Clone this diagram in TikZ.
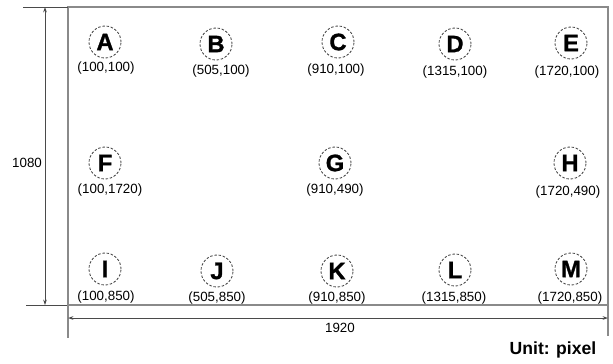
\documentclass[tikz,border=0pt]{standalone}
\usepackage{fontspec}
\setmainfont{Liberation Sans}
\newfontface\heavy{Liberation Sans Bold}[FakeBold=1.2]
\usepackage{tikz}
\usetikzlibrary{arrows.meta}
\usepackage{xcolor}
\definecolor{FrameGray}{HTML}{8A8A8A}
\definecolor{DimGray}{HTML}{4A4A4A}

\tikzset{
  spot/.style={draw=DimGray, circle, dash pattern=on 1.4pt off 1pt, line width=0.5pt,
               minimum size=0.64cm, inner sep=0pt,
               font=\fontsize{13.5}{13.5}\heavy},
  xy/.style={font=\fontsize{7.6}{9}\selectfont},
  dimline/.style={draw=DimGray, line width=0.45pt},
  dimarrow/.style={dimline, {Stealth[length=3pt,width=2pt]}-{Stealth[length=3pt,width=2pt]}}
}

\begin{document}
\begin{tikzpicture}[x=0.02cm, y=-0.02cm]
    \useasboundingbox (0,0) rectangle (613,363);

    % frame and extension lines
    \coordinate (tl) at (68,7);
    \coordinate (tr) at (608,7);
    \coordinate (bl) at (68,305);
    \coordinate (br) at (608,305);
    \draw[FrameGray, line width=0.9pt] (tl) rectangle (br);
    \coordinate (topext) at (23,7);
    \coordinate (botext) at (26,305);
    \coordinate (leftend) at (68,338);
    \coordinate (rightend) at (608,336);
    \draw[dimline] (topext) -- (tl);
    \draw[dimline] (botext) -- (bl);
    \draw[FrameGray, line width=0.9pt] (bl) -- (leftend);
    \draw[FrameGray, line width=0.9pt] (br) -- (rightend);

    % dimensions
    \coordinate (vtop) at (45,7);
    \coordinate (vbot) at (45,305);
    \coordinate (hleft) at (68,318);
    \coordinate (hright) at (608,318);
    \draw[dimarrow] (vtop) -- (vbot);
    \draw[dimarrow] (hleft) -- (hright);
    \node[xy, anchor=east, inner sep=1pt] (height) at (44,163) {1080};
    \node[xy] (width) at (340,328) {1920};
    \node[font=\fontsize{10}{12}\selectfont\bfseries] (unit) at (553,350) {Unit: pixel};

    % top row
    \node[spot] (A) at (105,42) {A};
    \node[xy] (A-xy) at (106,68) {(100,100)};
    \node[spot] (B) at (216,44) {B};
    \node[xy] (B-xy) at (221,71) {(505,100)};
    \node[spot] (C) at (338,42) {C};
    \node[xy] (C-xy) at (336,70) {(910,100)};
    \node[spot] (D) at (455,44) {D};
    \node[xy] (D-xy) at (455,72) {(1315,100)};
    \node[spot] (E) at (571,43) {E};
    \node[xy] (E-xy) at (567,72) {(1720,100)};

    % middle row
    \node[spot] (F) at (105,163) {F};
    \node[xy] (F-xy) at (110,190) {(100,1720)};
    \node[spot] (G) at (335,163) {G};
    \node[xy] (G-xy) at (335,190) {(910,490)};
    \node[spot] (H) at (570,163) {H};
    \node[xy] (H-xy) at (568,192) {(1720,490)};

    % bottom row
    \node[spot] (I) at (105,269) {I};
    \node[xy] (I-xy) at (106,297) {(100,850)};
    \node[spot] (J) at (217,271) {J};
    \node[xy] (J-xy) at (217,298) {(505,850)};
    \node[spot] (K) at (337,271) {K};
    \node[xy] (K-xy) at (337,298) {(910,850)};
    \node[spot] (L) at (455,270) {L};
    \node[xy] (L-xy) at (454,298) {(1315,850)};
    \node[spot] (M) at (571,269) {M};
    \node[xy] (M-xy) at (570,298) {(1720,850)};
\end{tikzpicture}
\end{document}
